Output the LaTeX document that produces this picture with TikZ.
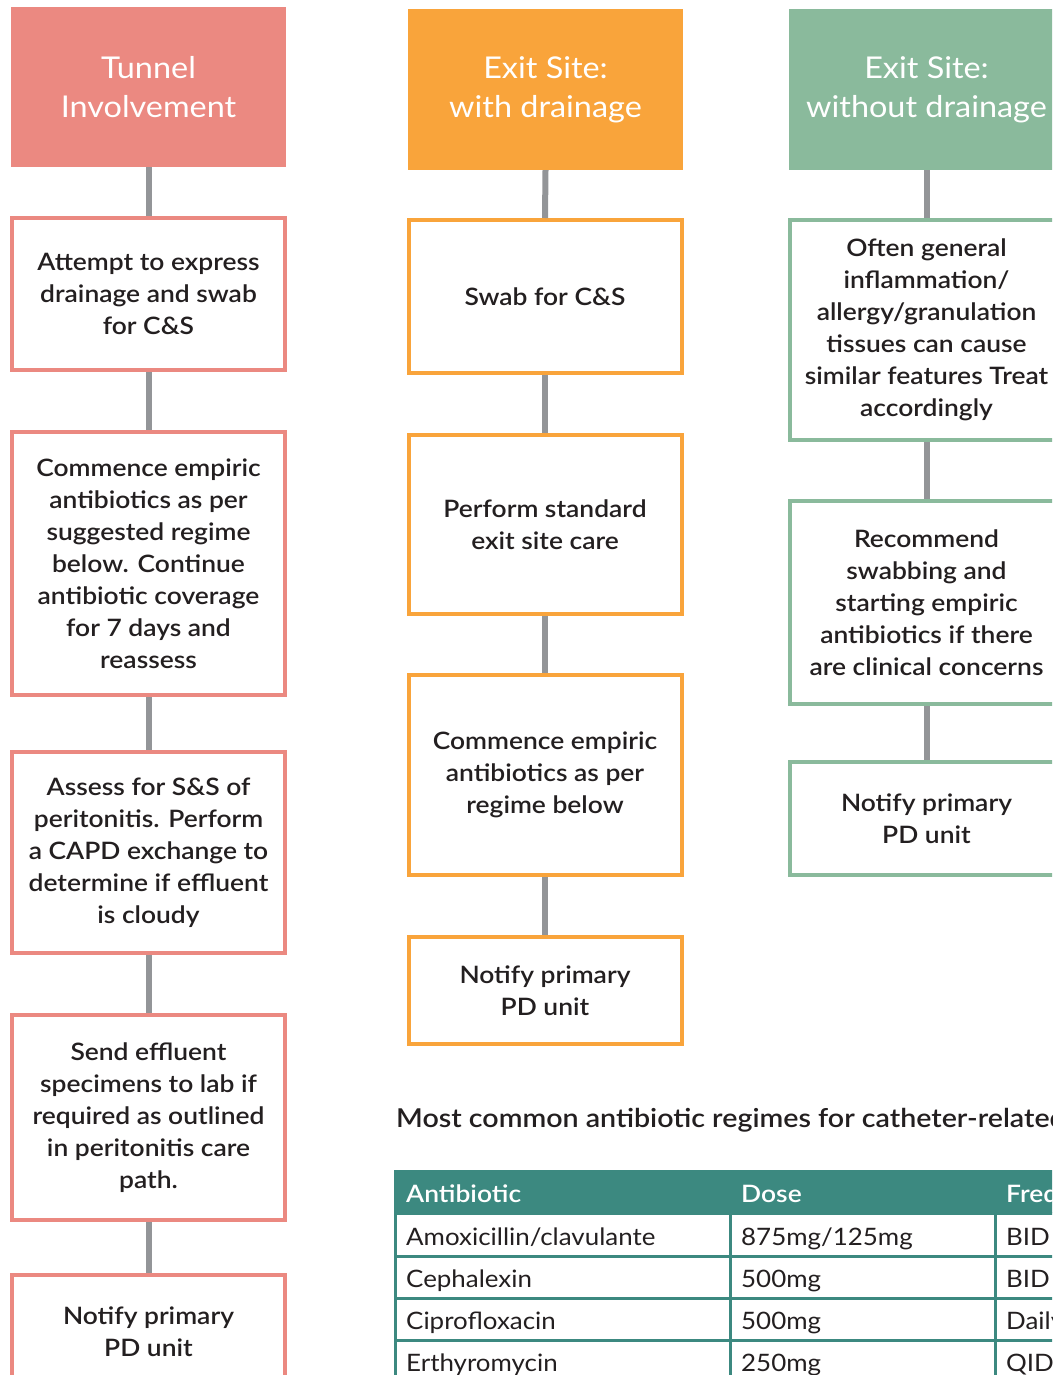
\documentclass[tikz,border=0pt]{standalone}
\usepackage{fontspec}
\setmainfont{Lato}[FakeStretch=1.08]
\newfontfamily\semib{Lato Semibold}[FakeStretch=1.1]
\definecolor{redc}{HTML}{EB8981}
\definecolor{orangec}{HTML}{F9A43B}
\definecolor{greenc}{HTML}{8ABA9C}
\definecolor{linkgray}{HTML}{939598}
\definecolor{ink}{HTML}{231F20}
\definecolor{teal}{HTML}{3C8980}
\newcommand\myboxfont{\semib\fontsize{24}{32}\selectfont}
\newcommand\myhdrfont{\fontsize{30}{39}\selectfont}
\newcommand\mycellfont{\fontsize{24}{30}\selectfont}
\begin{document}
\begin{tikzpicture}[x=1pt,y=-1pt,
  hdr/.style={fill=#1, draw=none, minimum width=275pt, align=center, text=white, font=\myhdrfont, inner sep=0pt},
  stepbox/.style={draw=#1, line width=4pt, fill=white, minimum width=273pt, align=center, text=ink, font=\myboxfont, inner sep=0pt},
  link/.style={draw=linkgray, line width=6pt},
  cell/.style={anchor=base west, text=ink, font=\mycellfont, inner sep=0pt},
  hcell/.style={anchor=base west, text=white, font=\semib\fontsize{24}{30}\selectfont, inner sep=0pt},
  grid/.style={draw=teal, line width=3pt}
]
\useasboundingbox (0,0) rectangle (1052,1375);
\clip (0,0) rectangle (1052,1375);
% ---------- red column ----------
\node[hdr=redc, minimum height=160pt] (rh) at (148.5,87) {Tunnel\\Involvement};
\node[stepbox=redc, minimum height=152pt] (r1) at (148.5,294) {Attempt to express\\drainage and swab\\for C\&S};
\node[stepbox=redc, minimum height=263pt] (r2) at (148.5,563.5) {Commence empiric\\antibiotics as per\\suggested regime\\below. Continue\\antibiotic coverage\\for 7 days and\\reassess};
\node[stepbox=redc, minimum height=201pt] (r3) at (148.5,852.5) {Assess for S\&S of\\peritonitis. Perform\\a CAPD exchange to\\determine if effluent\\is cloudy};
\node[stepbox=redc, minimum height=205pt] (r4) at (148.5,1117.5) {Send effluent\\specimens to lab if\\required as outlined\\in peritonitis care\\path.};
\node[stepbox=redc, minimum height=114pt] (r5) at (148.5,1332) {Notify primary\\PD unit};
% ---------- orange column ----------
\node[hdr=orangec, minimum height=161pt] (oh) at (545.5,89.5) {Exit Site:\\with drainage};
\node[stepbox=orangec, minimum height=153pt] (o1) at (545,296.5) {Swab for C\&S};
\node[stepbox=orangec, minimum height=179pt] (o2) at (545,524.5) {Perform standard\\exit site care};
\node[stepbox=orangec, minimum height=200pt] (o3) at (545,775) {Commence empiric\\antibiotics as per\\regime below};
\node[stepbox=orangec, minimum height=107pt] (o4) at (545,990.5) {Notify primary\\PD unit};
% ---------- green column ----------
\node[hdr=greenc, minimum height=161pt] (gh) at (926.5,89.5) {Exit Site:\\without drainage};
\node[stepbox=greenc, minimum height=220pt] (g1) at (926.5,330) {Often general\\inflammation/\\allergy/granulation\\tissues can cause\\similar features Treat\\accordingly};
\node[stepbox=greenc, minimum height=203pt] (g2) at (926.5,602.5) {Recommend\\swabbing and\\starting empiric\\antibiotics if there\\are clinical concerns};
\node[stepbox=greenc, minimum height=113pt] (g3) at (926.5,818.5) {Notify primary\\PD unit};
% ---------- connectors ----------
\foreach \a/\b in {rh/r1,r1/r2,r2/r3,r3/r4,r4/r5,oh/o1,o1/o2,o2/o3,o3/o4,gh/g1,g1/g2,g2/g3}
  \draw[link] (\a.south) -- (\b.north);
% ---------- table ----------
\node[anchor=base west, text=ink, font=\semib\fontsize{26}{30}\selectfont, inner sep=0pt] (ttl) at (396,1127) {Most common antibiotic regimes for catheter-related};
\fill[teal] (394,1170) rectangle (1060,1213);
\foreach \y in {1213,1256,1298,1340,1382}
  \draw[grid] (394,\y) -- (1060,\y);
\foreach \x in {395.5,730,995}
  \draw[grid] (\x,1212) -- (\x,1390);
\node[hcell] (h1) at (406,1202) {Antibiotic};
\node[hcell] (h2) at (741,1202) {Dose};
\node[hcell] (h3) at (1006,1202) {Frequency};
\node[cell] (a1) at (406,1245) {Amoxicillin/clavulante};
\node[cell] (b1) at (741,1245) {875mg/125mg};
\node[cell] (c1) at (1006,1245) {BID};
\node[cell] (a2) at (406,1287) {Cephalexin};
\node[cell] (b2) at (741,1287) {500mg};
\node[cell] (c2) at (1006,1287) {BID};
\node[cell] (a3) at (406,1329) {Ciprofloxacin};
\node[cell] (b3) at (741,1329) {500mg};
\node[cell] (c3) at (1006,1329) {Daily};
\node[cell] (a4) at (406,1371) {Erthyromycin};
\node[cell] (b4) at (741,1371) {250mg};
\node[cell] (c4) at (1006,1371) {QID};
\end{tikzpicture}
\end{document}
